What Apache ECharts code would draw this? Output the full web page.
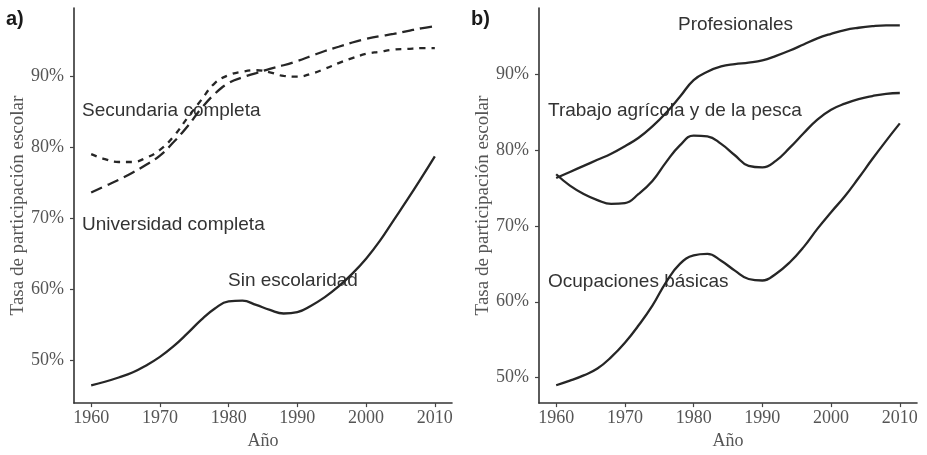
<!DOCTYPE html>
<html>
<head>
<meta charset="utf-8">
<script src="https://cdn.jsdelivr.net/npm/echarts@6/dist/echarts.min.js"></script>
<style>
  html, body { margin: 0; padding: 0; background: #fff; }
  #chart { width: 927px; height: 455px; }
</style>
</head>
<body>
<div id="chart"></div>
<script>
// Años observados (cada 2 años)
const years = [1960, 1962, 1964, 1966, 1968, 1970, 1972, 1974, 1976, 1978, 1980, 1982, 1984,
               1986, 1988, 1990, 1992, 1994, 1996, 1998, 2000, 2002, 2004, 2006, 2008, 2010];

// a) Nivel educativo de los padres
const sinEscolaridad = [46.5, 47.0, 47.6, 48.3, 49.3, 50.5, 52.0, 53.8, 55.7, 57.3, 58.3, 58.4, 57.8,
                        57.1, 56.6, 56.8, 57.7, 58.9, 60.4, 62.2, 64.3, 66.8, 69.7, 72.6, 75.6, 78.7];
const secundariaCompleta = [79.0, 78.3, 77.9, 77.9, 78.5, 79.6, 81.5, 84.1, 86.6, 89.0, 90.1, 90.6, 90.8,
                            90.5, 90.0, 89.9, 90.3, 91.0, 91.8, 92.5, 93.1, 93.4, 93.7, 93.8, 93.9, 93.9];
const universidadCompleta = [73.6, 74.5, 75.4, 76.4, 77.5, 78.8, 80.7, 82.9, 85.4, 87.5, 89.0, 89.8, 90.4,
                             91.0, 91.5, 92.1, 92.8, 93.5, 94.1, 94.7, 95.2, 95.6, 95.9, 96.3, 96.7, 97.0];

// b) Ocupación de los padres
const profesionales = [76.3, 77.1, 77.9, 78.7, 79.5, 80.5, 81.6, 83.1, 84.9, 87.0, 89.2, 90.3, 91.0,
                       91.3, 91.5, 91.8, 92.4, 93.1, 93.9, 94.7, 95.3, 95.8, 96.1, 96.3, 96.4, 96.4];
const trabajoAgricola = [76.8, 75.3, 74.2, 73.4, 72.9, 73.0, 74.2, 75.9, 78.4, 80.6, 81.9, 81.8, 80.8,
                         79.3, 77.9, 77.7, 78.6, 80.3, 82.2, 84.0, 85.3, 86.1, 86.7, 87.1, 87.4, 87.5];
const ocupacionesBasicas = [49.0, 49.6, 50.3, 51.2, 52.7, 54.6, 56.9, 59.5, 62.6, 65.0, 66.1, 66.3, 65.4,
                            64.1, 63.0, 62.8, 63.7, 65.2, 67.2, 69.6, 71.8, 73.9, 76.3, 78.8, 81.2, 83.5];

// Marcas de los ejes
const xTicks = [1960, 1970, 1980, 1990, 2000, 2010];
const yTicks = [50, 60, 70, 80, 90];

const serif = 'Liberation Serif';
const sans = 'Liberation Sans';
const lineColor = '#262626';

function pairs(vals) { return years.map((y, i) => [y, vals[i]]); }

function xAxis(gridIndex) {
  return {
    type: 'value', gridIndex, min: 1957.5, max: 2012.5,
    name: 'Año', nameLocation: 'middle', nameGap: 28,
    nameTextStyle: { fontFamily: serif, fontSize: 18, color: '#555' },
    axisLine: { show: true, onZero: false, lineStyle: { color: '#333', width: 1.6 } },
    axisTick: { show: true, length: 4, customValues: xTicks, lineStyle: { color: '#444', width: 1.2 } },
    axisLabel: { customValues: xTicks, margin: 6, fontFamily: serif, fontSize: 18, color: '#555',
                 formatter: v => String(v) },
    splitLine: { show: false }
  };
}

function yAxis(gridIndex, min, max) {
  return {
    type: 'value', gridIndex, min, max,
    name: 'Tasa de participación escolar', nameLocation: 'middle', nameGap: 46,
    nameTextStyle: { fontFamily: serif, fontSize: 19, color: '#555' },
    axisLine: { show: true, onZero: false, lineStyle: { color: '#333', width: 1.6 } },
    axisTick: { show: true, length: 4, customValues: yTicks, lineStyle: { color: '#444', width: 1.2 } },
    axisLabel: { customValues: yTicks, margin: 10, fontFamily: serif, fontSize: 18, color: '#555',
                 formatter: v => v + '%' },
    splitLine: { show: false }
  };
}

function line(name, vals, axisIdx, dash) {
  return {
    type: 'line', name, data: pairs(vals), xAxisIndex: axisIdx, yAxisIndex: axisIdx,
    smooth: 0.45, showSymbol: false, symbol: 'none', silent: true,
    lineStyle: { color: lineColor, width: 2.3, type: dash || 'solid', cap: 'butt' }
  };
}

function note(text, x, y, size, bold) {
  return {
    type: 'text', x, y, z: 1,
    style: { text, fontFamily: sans, fontSize: size, fontWeight: bold ? 'bold' : 'normal',
             fill: bold ? '#1a1a1a' : '#333', align: 'left', verticalAlign: 'middle' }
  };
}

const chart = echarts.init(document.getElementById('chart'), null, { renderer: 'canvas' });
chart.setOption({
  backgroundColor: '#fff',
  animation: false,
  grid: [
    { left: 74, top: 8, width: 378, height: 400 },
    { left: 539, top: 8, width: 378, height: 400 }
  ],
  xAxis: [xAxis(0), xAxis(1)],
  yAxis: [yAxis(0, 44.0, 99.55), yAxis(1, 46.65, 98.7)],
  series: [
    line('Sin escolaridad', sinEscolaridad, 0),
    line('Secundaria completa', secundariaCompleta, 0, [6, 6]),
    line('Universidad completa', universidadCompleta, 0, [12, 6]),
    line('Profesionales', profesionales, 1),
    line('Trabajo agrícola y de la pesca', trabajoAgricola, 1),
    line('Ocupaciones básicas', ocupacionesBasicas, 1)
  ],
  graphic: [
    note('a)', 6, 19, 20, true),
    note('b)', 471, 19, 20, true),
    note('Secundaria completa', 82, 111, 19),
    note('Universidad completa', 82, 225, 19),
    note('Sin escolaridad', 228, 281, 19),
    note('Profesionales', 678, 25, 19),
    note('Trabajo agrícola y de la pesca', 548, 111, 19),
    note('Ocupaciones básicas', 548, 282, 19)
  ]
});
</script>
</body>
</html>
